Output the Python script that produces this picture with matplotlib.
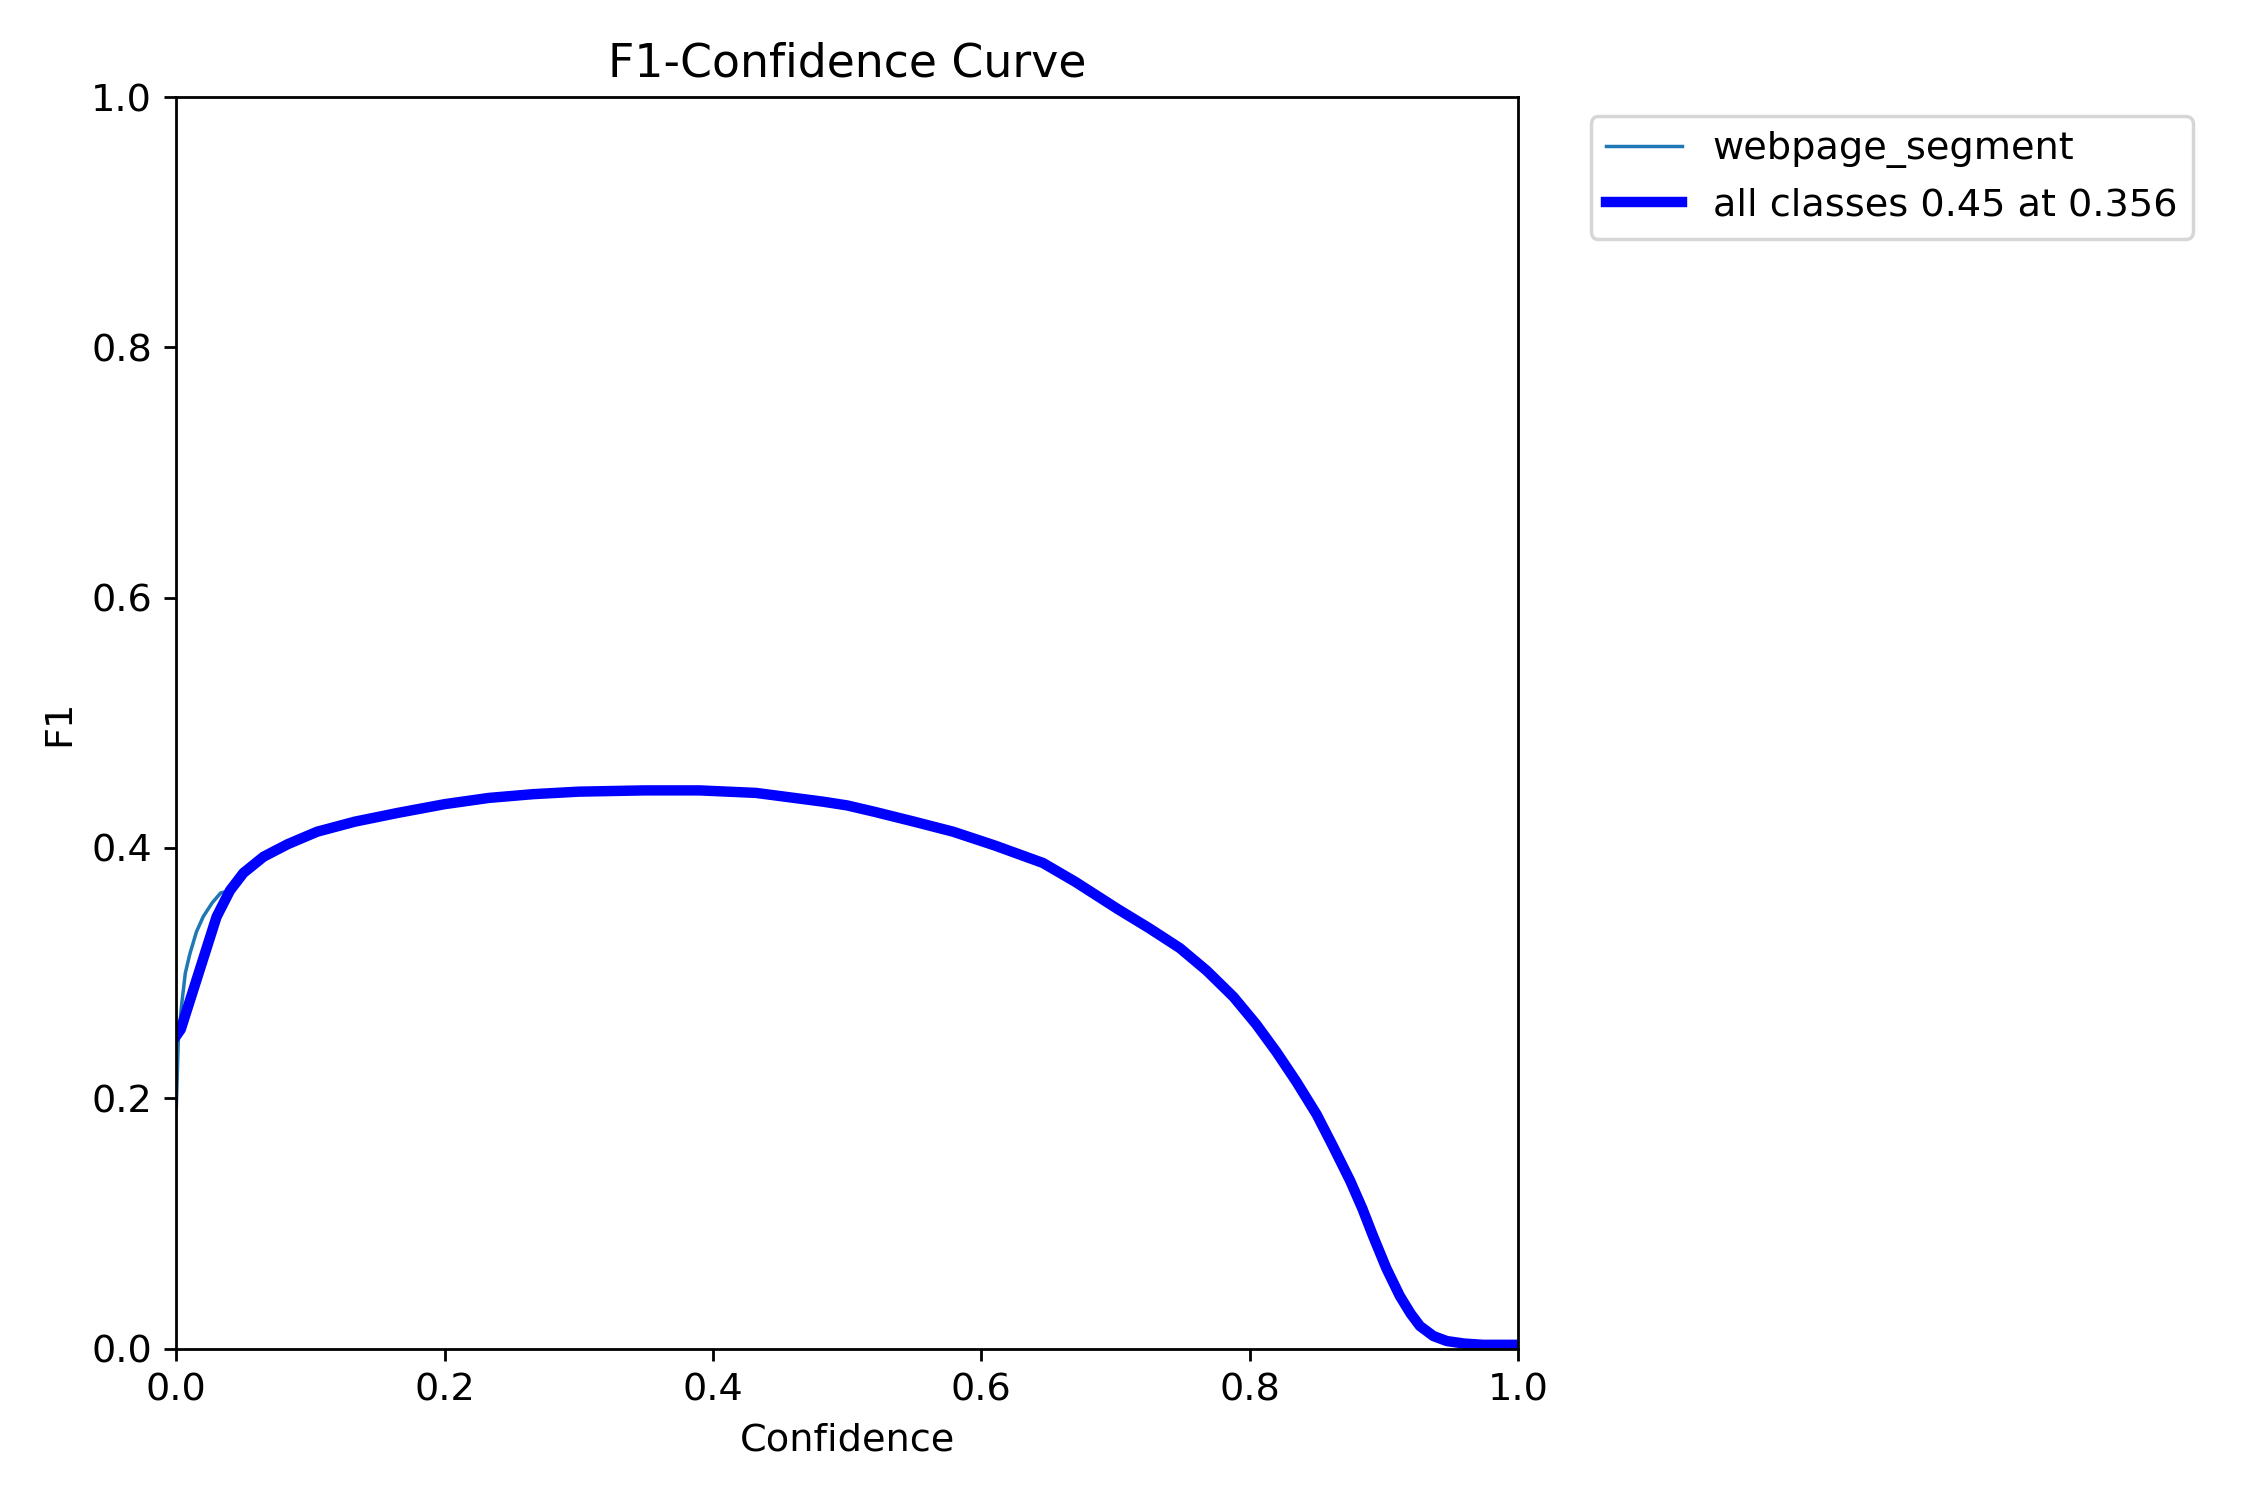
import matplotlib
matplotlib.use('Agg')
import matplotlib.pyplot as plt

plt.rcParams['font.size'] = 11

# shared part of both curves (from conf 0.04 up to 0.92)
conf_tail = [0.04, 0.05, 0.065, 0.083, 0.105, 0.133, 0.165, 0.2, 0.233, 0.266, 0.3, 0.349, 0.39,
             0.432, 0.482, 0.5, 0.52, 0.55, 0.579, 0.61, 0.646, 0.67, 0.702, 0.725, 0.748, 0.768,
             0.788, 0.805, 0.82, 0.835, 0.85, 0.862, 0.875, 0.884, 0.892, 0.902, 0.912, 0.92]
f1_tail = [0.366, 0.380, 0.393, 0.403, 0.413, 0.421, 0.428, 0.435, 0.440, 0.443, 0.445, 0.446, 0.446,
           0.444, 0.437, 0.434, 0.429, 0.421, 0.413, 0.402, 0.388, 0.373, 0.351, 0.336, 0.320, 0.302,
           0.281, 0.259, 0.237, 0.213, 0.187, 0.162, 0.134, 0.112, 0.090, 0.064, 0.042, 0.028]

# per-class curve (thin)
conf_cls = [0.0, 0.0015, 0.004, 0.0067, 0.010, 0.015, 0.02, 0.0266, 0.033] + conf_tail + \
           [0.927, 0.937, 0.947, 0.96, 0.974, 1.0]
f1_cls = [0.193, 0.247, 0.275, 0.300, 0.315, 0.333, 0.345, 0.356, 0.364] + f1_tail + \
         [0.016, 0.008, 0.004, 0.003, 0.002, 0.002]

# smoothed mean over classes (thick)
conf_all = [0.0, 0.0033, 0.030] + conf_tail + [0.927, 0.937, 0.947, 0.96, 0.974, 1.0]
f1_all = [0.25, 0.255, 0.345] + f1_tail + [0.018, 0.010, 0.006, 0.004, 0.003, 0.003]

fig, ax = plt.subplots(1, 1, figsize=(9, 6), tight_layout=True)
ax.plot(conf_cls, f1_cls, linewidth=1, label='webpage_segment')
ax.plot(conf_all, f1_all, linewidth=3, color='blue', label='all classes 0.45 at 0.356')
ax.set_xlabel('Confidence')
ax.set_ylabel('F1')
ax.set_xlim(0, 1)
ax.set_ylim(0, 1)
ax.legend(bbox_to_anchor=(1.04, 1), loc='upper left')
ax.set_title('F1-Confidence Curve')
fig.savefig('out.png', dpi=250)
plt.close(fig)
